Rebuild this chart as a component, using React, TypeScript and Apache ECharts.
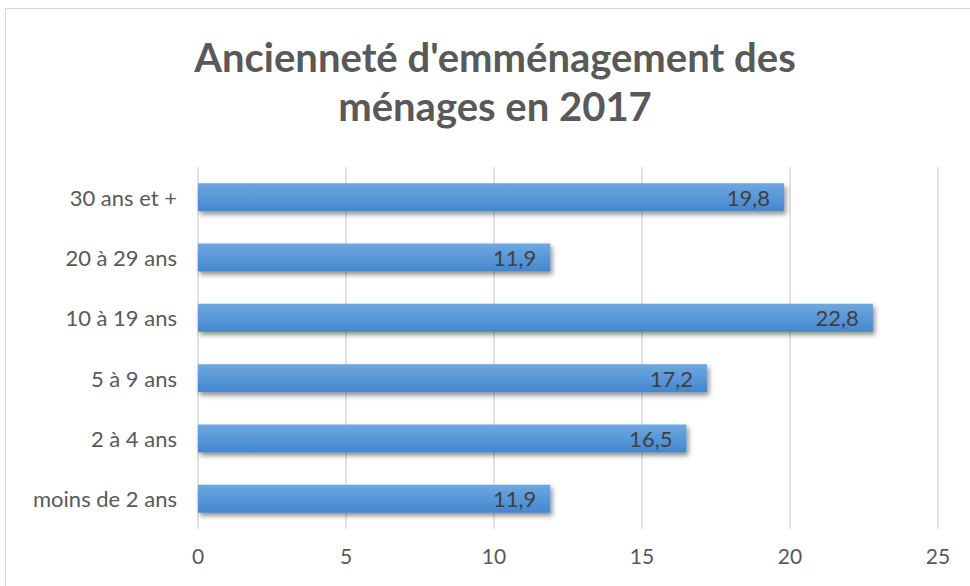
import React, { useEffect, useRef } from "react";
import * as echarts from "echarts";

const categories = ["moins de 2 ans", "2 à 4 ans", "5 à 9 ans", "10 à 19 ans", "20 à 29 ans", "30 ans et +"];
const values = [11.9, 16.5, 17.2, 22.8, 11.9, 19.8];
const titleText = "Ancienneté d'emménagement des\nménages en 2017";
const xMin = 0;
const xMax = 25;
const xInterval = 5;

const FONT = "Lato, 'Open Sans', 'Noto Sans', sans-serif";

export default function App() {
  const ref = useRef<HTMLDivElement>(null);
  useEffect(() => {
    if (!ref.current) return;
    const chart = echarts.init(ref.current, undefined, { renderer: "svg" });
    chart.setOption({
      animation: false,
      backgroundColor: "#ffffff",
      graphic: [
        {
          type: "rect",
          shape: { x: 5.5, y: 8.5, width: 1000, height: 1000 },
          style: { fill: "none", stroke: "#d9d9d9", lineWidth: 1 },
          z: 0,
        },
        {
          type: "text",
          x: 495,
          y: 32,
          style: {
            text: titleText,
            fill: "#595959",
            font: `bold 40px ${FONT}`,
            lineHeight: 49,
            textAlign: "center",
            textVerticalAlign: "top",
          },
        },
      ],
      grid: { left: 198, right: 32, top: 167, bottom: 57 },
      xAxis: {
        type: "value",
        min: xMin,
        max: xMax,
        interval: xInterval,
        axisLine: { show: false },
        axisTick: { show: false },
        splitLine: { show: true, lineStyle: { color: "#d9d9d9", width: 1.5 } },
        axisLabel: { color: "#595959", fontSize: 21, fontFamily: FONT, margin: 16 },
      },
      yAxis: {
        type: "category",
        data: categories,
        axisLine: { show: false },
        axisTick: { show: false },
        splitLine: { show: false },
        axisLabel: { color: "#595959", fontSize: 22, fontFamily: FONT, margin: 21 },
      },
      series: [
        {
          type: "bar",
          data: values,
          barWidth: 28,
          itemStyle: {
            color: new echarts.graphic.LinearGradient(0, 0, 0, 1, [
              { offset: 0, color: "#6ea8e0" },
              { offset: 1, color: "#4486cf" },
            ]),
            shadowColor: "rgba(0,0,0,0.45)",
            shadowBlur: 5,
            shadowOffsetX: 2,
            shadowOffsetY: 3,
          },
          label: {
            show: true,
            position: "insideRight",
            distance: 14,
            color: "#404040",
            fontSize: 22,
            fontFamily: FONT,
            formatter: (p: any) => String(p.value).replace(".", ","),
          },
        },
      ],
    });
    return () => chart.dispose();
  }, []);
  return (
    <div
      ref={ref}
      style={{ position: "fixed", left: 0, top: 0, width: 970, height: 586 }}
    />
  );
}
